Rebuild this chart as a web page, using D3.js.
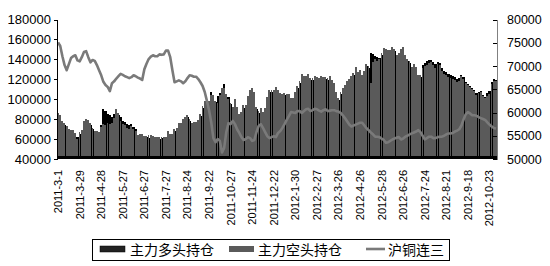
<!DOCTYPE html>
<meta charset="utf-8">
<style>
body { margin: 0; background: #fff; }
svg text { font-family: "Liberation Sans", Arial, sans-serif; fill: #000; }
.axis path, .axis line { shape-rendering: crispEdges; }
.legend text { font-family: "Noto Sans CJK SC", sans-serif; font-size: 14px; }
</style>
<svg width="550" height="266"></svg>
<script src="https://cdn.jsdelivr.net/npm/d3@7"></script>
<script>
// tick labels, one every 10 points (20 trading days)
var dateLabels = ["2011-3-1", "2011-3-29", "2011-4-28", "2011-5-27", "2011-6-27", "2011-7-27",
  "2011-8-24", "2011-9-22", "2011-10-27", "2011-11-24", "2011-12-22", "2012-1-30",
  "2012-2-27", "2012-3-26", "2012-4-26", "2012-5-28", "2012-6-26", "2012-7-24",
  "2012-8-21", "2012-9-18", "2012-10-23"];

var seriesNames = ["主力多头持仓", "主力空头持仓", "沪铜连三"];

// 主力多头持仓
var longPos = [
  83000,81000,77000,74000,72000,69000,67500,66000,64000,62000,
  65000,67000,75000,78000,77500,74000,70000,66500,66000,66000,
  74000,90500,88500,85000,84000,82500,85000,86000,84000,82000,
  78500,77500,75000,74000,75500,72500,70500,63000,62500,63500,
  61000,62000,61500,62500,61000,60500,61000,60000,61500,60000,
  60500,65500,63000,64000,68000,69000,73500,75000,77000,81000,
  82000,78500,74000,75500,76000,77000,83000,91000,96000,95500,
  96500,107000,102000,97000,103500,106000,109000,115500,103000,102000,
  95000,90000,98000,91000,84000,85500,91000,93000,101000,107000,
  109500,105500,90500,86500,90000,85500,89000,100500,107500,107500,
  107000,110000,107500,104000,104000,104500,103500,103500,100000,99500,
  105500,111000,116000,123000,121500,121000,123500,119500,119000,121500,
  120500,119500,121000,120500,120000,119500,121500,117000,115000,105500,
  99500,105500,109500,112000,116500,118000,121000,124500,130500,125500,
  127000,122500,126000,133000,131500,146000,145000,143500,142500,141000,
  144500,149500,150500,147000,147500,150000,148000,142000,145000,148000,
  150500,142500,138000,136000,130500,133000,130500,122500,122000,134000,
  136500,138000,139500,139000,137500,135000,137500,136500,131000,128500,
  127000,125500,124500,123500,122000,120500,121500,124500,122500,117500,
  115500,113500,111500,109500,106000,107000,108000,104500,102500,106500,
  108500,117500,120500,119500
];

// 主力空头持仓
var shortPos = [
  86000,84000,78000,76000,73500,70500,69000,69000,66000,60000,
  67500,69000,78000,80500,79000,76500,71000,68000,68500,67000,
  72000,75000,74000,76000,75000,76000,81000,90000,86000,78000,
  75000,74000,71000,70500,73000,70000,68000,64500,65000,65000,
  63000,63000,64000,64000,63500,62300,62300,62300,62300,62000,
  62000,68000,65000,65000,70000,70700,76000,76000,80000,82500,
  84000,80000,76000,77300,77300,79000,85500,93500,98500,97000,
  98000,104500,104000,98500,96000,104000,111000,111500,105500,100500,
  96500,92000,100000,92500,85500,87000,93700,94500,103000,109000,
  111000,107500,92000,88000,91500,87000,91000,102500,109000,109000,
  109000,112300,109500,106000,105500,106500,105700,105000,101500,101000,
  107500,113000,118000,125700,123200,123200,125500,121500,121000,123700,
  122300,121000,123000,122300,122000,121500,123700,118800,116500,107000,
  101000,107500,111500,114000,118500,120000,123000,126500,132300,127500,
  129000,124500,128000,135000,133500,116000,137700,140500,138200,140500,
  146500,151500,150000,149000,149500,152300,150000,144000,146700,150000,
  152500,144500,140000,138000,132500,135000,132500,124500,124000,131500,
  133500,134500,136500,137000,134000,131500,135000,134000,128500,125500,
  124000,122300,121500,120000,119000,117300,118000,123000,120300,116000,
  114000,112300,110000,108000,104500,106500,107500,103000,101000,103500,
  105500,115000,118500,118000
];

// 沪铜连三 (right axis)
var copper = [
  75100,74300,72100,70200,69100,70400,71700,72100,72300,71200,
  71000,71900,73000,73200,71900,70800,71300,71100,70200,69100,
  68000,66600,65900,65500,64600,66300,66700,67300,67800,68300,
  68100,67800,67600,67400,67600,68000,67800,67500,67300,67000,
  69300,70500,71500,72000,72300,72100,72100,72500,72400,72500,
  73300,73300,71900,69100,66500,66700,66900,66700,66300,66700,
  67400,68000,67900,67700,67700,67200,66500,65700,64400,62500,
  60500,57900,54500,53600,54300,53900,51400,52400,55800,57700,
  57500,58200,57500,56400,55600,54700,54100,54300,54700,54500,
  53900,54100,55800,57100,57500,56700,55800,54900,54500,54700,
  54900,54700,55600,56000,56700,57500,58400,59200,60100,60000,
  59900,60300,60300,59900,60300,60700,60800,60300,60500,60800,
  60700,60400,60200,60500,60700,60300,60400,60500,60500,60300,
  60200,59900,59400,58800,58100,57400,57000,57200,57400,57600,
  57800,57800,57200,56600,56200,55700,55300,54800,54800,54700,
  54400,54100,53500,53600,53900,54200,54400,54600,54700,54200,
  54400,54800,55000,55300,55500,55700,55900,56200,55800,55000,
  54200,54500,54800,54800,54500,54500,54700,54800,54800,55000,
  55300,55500,55500,55600,55900,56100,56400,57200,58500,59600,
  60100,59800,59400,59400,59300,59000,58800,58600,58400,57900,
  57400,57000,56700,56500
];

var leftTicks = d3.range(40000, 180001, 20000),
    rightTicks = d3.range(50000, 80001, 5000);

var svg = d3.select("svg"),
    plotLeft = 57, plotRight = 497, plotTop = 19.5, plotBottom = 159;

var n = shortPos.length;

var x = d3.scaleBand()
    .domain(d3.range(n))
    .range([plotLeft, plotRight]);

var yL = d3.scaleLinear().domain([40000, 180000]).range([plotBottom, plotTop]),
    yR = d3.scaleLinear().domain([50000, 80000]).range([plotBottom, plotTop]);

// long bars sit behind, short bars are a hair narrower so long peeks through
svg.append("g")
  .selectAll("rect")
  .data(longPos)
  .enter().append("rect")
    .attr("x", function(d, i) { return x(i); })
    .attr("y", function(d) { return yL(d); })
    .attr("width", x.bandwidth())
    .attr("height", function(d) { return plotBottom - yL(d); })
    .attr("fill", "#000")
    .attr("shape-rendering", "crispEdges");

svg.append("g")
  .selectAll("rect")
  .data(shortPos)
  .enter().append("rect")
    .attr("x", function(d, i) { return x(i); })
    .attr("y", function(d) { return yL(d); })
    .attr("width", x.bandwidth() - 0.27)
    .attr("height", function(d) { return plotBottom - yL(d); })
    .attr("fill", "#5a5a5a")
    .attr("shape-rendering", "crispEdges");

svg.append("rect")
    .attr("x", plotLeft)
    .attr("y", plotBottom - 3)
    .attr("width", plotRight - plotLeft)
    .attr("height", 3)
    .attr("fill", "#000");

svg.append("path")
    .datum(copper)
    .attr("fill", "none")
    .attr("stroke", "#7a7a7a")
    .attr("stroke-width", 2.6)
    .attr("stroke-linejoin", "round")
    .attr("d", d3.line()
        .x(function(d, i) { return x(i) + x.bandwidth() / 2; })
        .y(function(d) { return yR(d); }));

var axL = svg.append("g")
    .attr("class", "axis")
    .attr("transform", "translate(" + plotLeft + ",0)")
    .call(d3.axisLeft(yL).tickValues(leftTicks).tickSize(3).tickSizeOuter(0)
        .tickPadding(3).tickFormat(d3.format("d")));
axL.selectAll("text").style("font-size", "13px");
axL.select(".domain").attr("stroke", "#000");

var axR = svg.append("g")
    .attr("class", "axis")
    .attr("transform", "translate(" + plotRight + ",0)")
    .call(d3.axisRight(yR).tickValues(rightTicks).tickSize(-4).tickSizeOuter(0)
        .tickPadding(10).tickFormat(d3.format("d")));
axR.selectAll("text").style("font-size", "12.5px");
axR.select(".domain").attr("stroke", "#808080");
axR.selectAll(".tick line").attr("stroke", "#000");

svg.append("g")
  .selectAll("text")
  .data(dateLabels)
  .enter().append("text")
    .attr("transform", function(d, i) {
      return "translate(" + (x(i * 10) + x.bandwidth() / 2) + ",170) rotate(-90)";
    })
    .attr("text-anchor", "end")
    .attr("dominant-baseline", "central")
    .style("font-size", "11px")
    .text(function(d) { return d; });

// legend
var legend = svg.append("g").attr("class", "legend");

legend.append("rect")
    .attr("x", 92.5).attr("y", 239.5)
    .attr("width", 357).attr("height", 21)
    .attr("fill", "#fff").attr("stroke", "#000");

legend.append("rect")
    .attr("x", 100).attr("y", 246).attr("width", 25).attr("height", 6)
    .attr("fill", "#222").attr("stroke", "#000").attr("stroke-width", 0.5);
legend.append("text")
    .attr("x", 130).attr("y", 249).attr("dominant-baseline", "central")
    .text(seriesNames[0]);

legend.append("rect")
    .attr("x", 229).attr("y", 246).attr("width", 25).attr("height", 6)
    .attr("fill", "#5a5a5a");
legend.append("text")
    .attr("x", 258).attr("y", 249).attr("dominant-baseline", "central")
    .text(seriesNames[1]);

legend.append("line")
    .attr("x1", 366).attr("x2", 385).attr("y1", 249).attr("y2", 249)
    .attr("stroke", "#7a7a7a").attr("stroke-width", 2.6);
legend.append("text")
    .attr("x", 388).attr("y", 249).attr("dominant-baseline", "central")
    .text(seriesNames[2]);
</script>
